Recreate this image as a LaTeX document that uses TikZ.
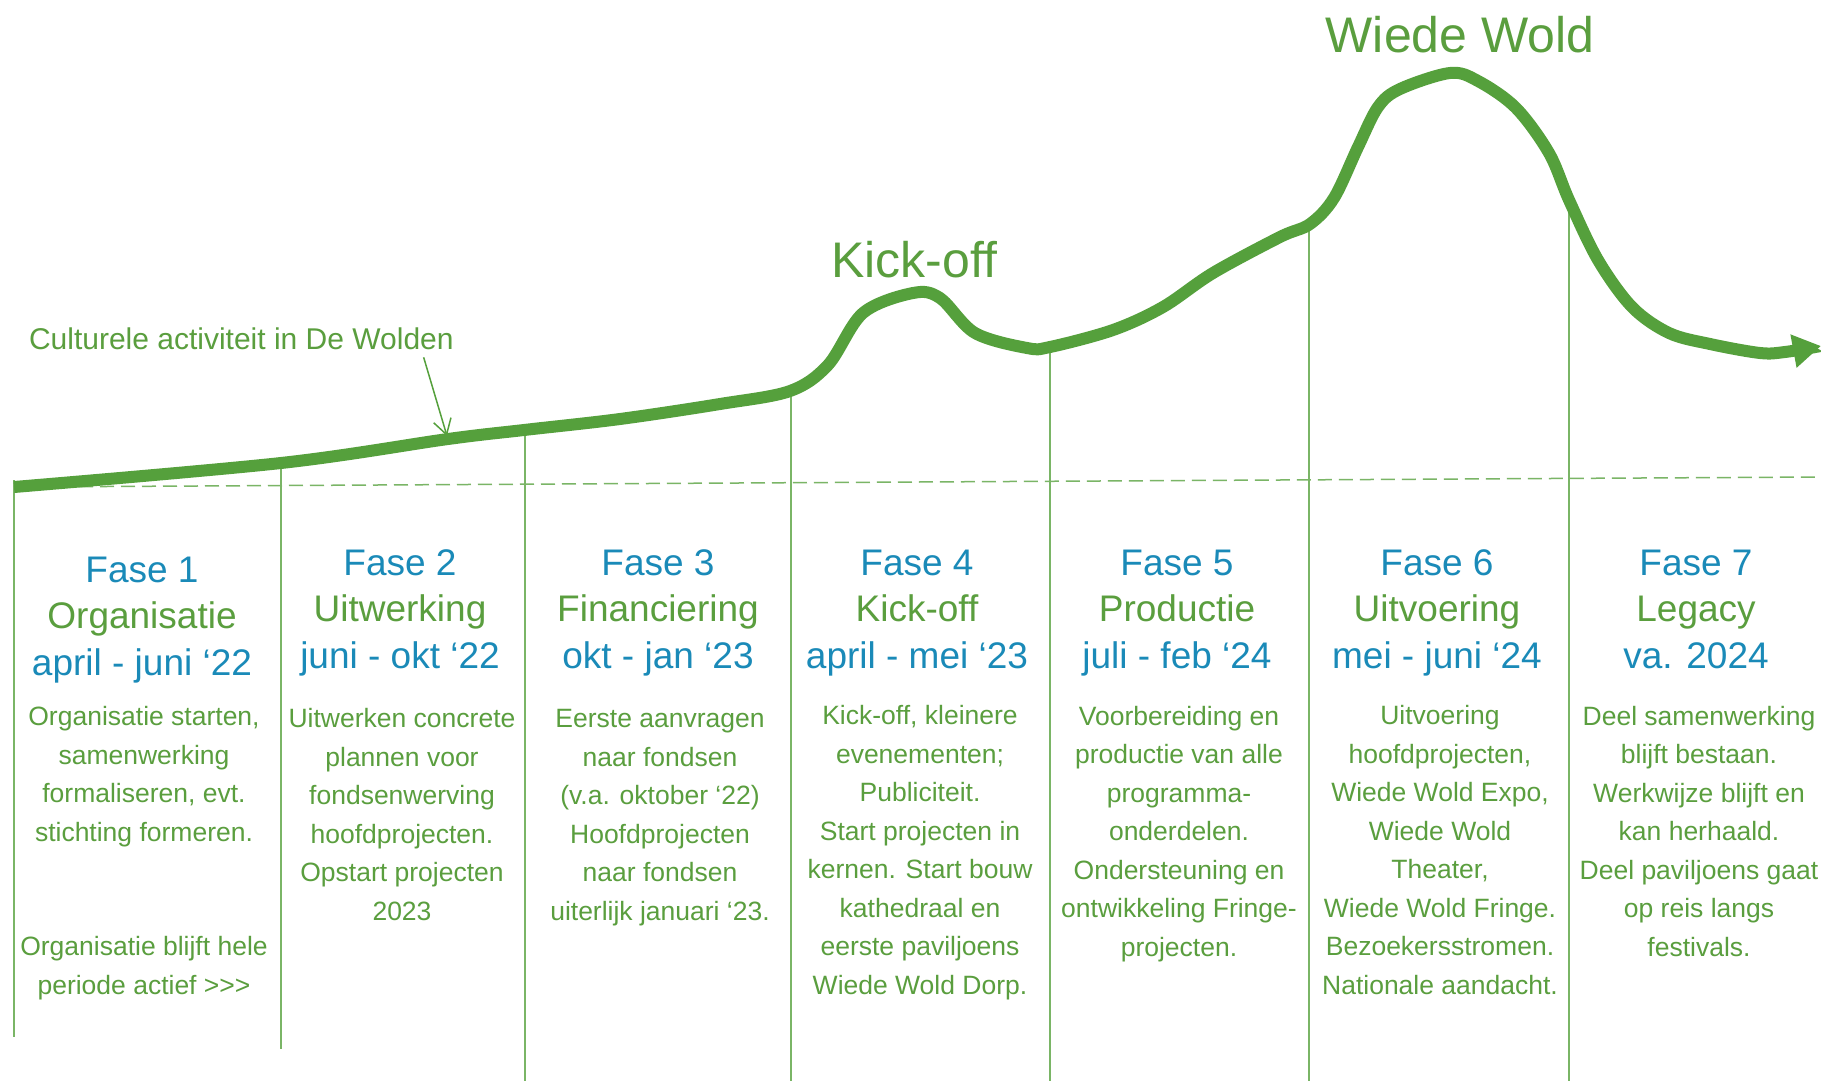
\documentclass[tikz,border=0pt]{standalone}
\usepackage{fontspec}
\setmainfont{Liberation Sans}
\usetikzlibrary{arrows.meta,calc}
\definecolor{cgreen}{HTML}{55A03C}
\definecolor{tgreen}{HTML}{5A9E3E}
\definecolor{fblue}{HTML}{1A8AB8}
\definecolor{lgreen}{HTML}{7AB566}
\begin{document}
\begin{tikzpicture}[x=1pt,y=-1pt,
  head/.style={inner sep=0pt, outer sep=0pt, align=center, anchor=base, font=\fontsize{37}{46.5}\selectfont},
  body/.style={inner sep=0pt, outer sep=0pt, align=center, anchor=base, text=tgreen, font=\fontsize{26.5}{38.5}\selectfont},
  big/.style={inner sep=0pt, outer sep=0pt, anchor=base, text=tgreen, font=\fontsize{50}{60}\selectfont},
  vline/.style={draw=lgreen, line width=1.5pt},
  baseline/.style={draw=lgreen, line width=1.5pt, dash pattern=on 14pt off 7pt},
  curve/.style={draw=cgreen, line width=12pt, -{Triangle[length=28pt,width=32pt]}},
  pointer/.style={draw=cgreen, line width=1.5pt, -{Straight Barb[length=15pt,width=18pt]}}
]
\useasboundingbox (0,0) rectangle (1821,1081);
\fill[white] (0,0) rectangle (1821,1081);

% vertical separators
\foreach \n/\x/\t/\b in {1/14/480/1037, 2/281/465/1049, 3/525/430/1081, 4/791/392/1081, 5/1050/347/1081, 6/1309/226/1081, 7/1569/201/1081}{
  \coordinate (t\n) at (\x,\t);
  \coordinate (b\n) at (\x,\b);
  \draw[vline] (t\n) -- (b\n);
}

% dashed reference line
\coordinate (dl) at (16,487);
\coordinate (dr) at (1821,477);
\draw[baseline] (dl) -- (dr);

% activity curve
\draw[curve] plot[smooth, tension=0.55] coordinates {
 (14,487) (281,463) (448,439) (524,430) (620,419) (720,404) (790,391)
 (828,365) (863,313) (913,293) (940,298) (975,333) (1027,348) (1050,347)
 (1113,330) (1163,307) (1213,273) (1280,237) (1310,224) (1334,198) (1358,147)
 (1378,107) (1400,89) (1450,73) (1478,81) (1516,108) (1549,153) (1569,200)
 (1598,260) (1632,307) (1669,333) (1710,344) (1760,353) (1785,352) (1821,346)};

% labels
\node[big] (kick) at (914,277) {Kick-off};
\node[big] (wiede) at (1460,53) {Wiede Wold};
\node[inner sep=0pt, outer sep=0pt, anchor=base west, text=tgreen, font=\fontsize{30}{36}\selectfont] (lab) at (29,349) {Culturele activiteit in De Wolden};
\coordinate (labtip) at (447,436);
\draw[pointer] ($(lab.south east)+(-30,8)$) -- (labtip);

% phase headings (anchor = baseline of the last line)
\node[head] (h1) at (142,675) {\textcolor{fblue}{Fase 1}\\\textcolor{tgreen}{Organisatie}\\\textcolor{fblue}{april - juni ‘22}};
\node[head] (h2) at (400,668) {\textcolor{fblue}{Fase 2}\\\textcolor{tgreen}{Uitwerking}\\\textcolor{fblue}{juni - okt ‘22}};
\node[head] (h3) at (658,668) {\textcolor{fblue}{Fase 3}\\\textcolor{tgreen}{Financiering}\\\textcolor{fblue}{okt - jan ‘23}};
\node[head] (h4) at (917,668) {\textcolor{fblue}{Fase 4}\\\textcolor{tgreen}{Kick-off}\\\textcolor{fblue}{april - mei ‘23}};
\node[head] (h5) at (1177,668) {\textcolor{fblue}{Fase 5}\\\textcolor{tgreen}{Productie}\\\textcolor{fblue}{juli - feb ‘24}};
\node[head] (h6) at (1437,668) {\textcolor{fblue}{Fase 6}\\\textcolor{tgreen}{Uitvoering}\\\textcolor{fblue}{mei - juni ‘24}};
\node[head] (h7) at (1696,668) {\textcolor{fblue}{Fase 7}\\\textcolor{tgreen}{Legacy}\\\textcolor{fblue}{va. 2024}};

% phase descriptions (anchor = baseline of the last line)
\node[body] (d1) at (144,841) {Organisatie starten,\\samenwerking\\formaliseren, evt.\\stichting formeren.};
\node[body] (d1b) at (144,994) {Organisatie blijft hele\\periode actief >{}>{}>};
\node[body] (d2) at (402,920) {Uitwerken concrete\\plannen voor\\fondsenwerving\\hoofdprojecten.\\Opstart projecten\\2023};
\node[body] (d3) at (660,920) {Eerste aanvragen\\naar fondsen\\(v.a. oktober ‘22)\\Hoofdprojecten\\naar fondsen\\uiterlijk januari ‘23.};
\node[body] (d4) at (920,994) {Kick-off, kleinere\\evenementen;\\Publiciteit.\\Start projecten in\\kernen. Start bouw\\kathedraal en\\eerste paviljoens\\Wiede Wold Dorp.};
\node[body] (d5) at (1179,956) {Voorbereiding en\\productie van alle\\programma-\\onderdelen.\\Ondersteuning en\\ontwikkeling Fringe-\\projecten.};
\node[body] (d6) at (1440,994) {Uitvoering\\hoofdprojecten,\\Wiede Wold Expo,\\Wiede Wold\\Theater,\\Wiede Wold Fringe.\\Bezoekersstromen.\\Nationale aandacht.};
\node[body] (d7) at (1699,956) {Deel samenwerking\\blijft bestaan.\\Werkwijze blijft en\\kan herhaald.\\Deel paviljoens gaat\\op reis langs\\festivals.};
\end{tikzpicture}
\end{document}
